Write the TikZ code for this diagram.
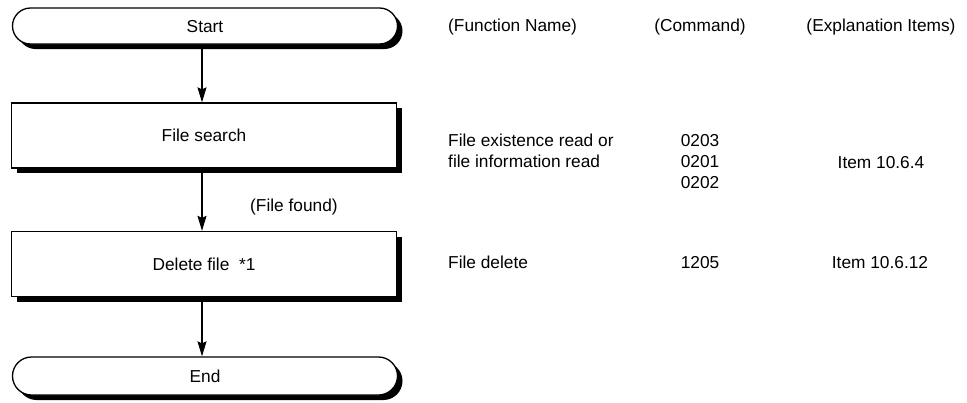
\documentclass[tikz,border=0pt]{standalone}
\usepackage{fontspec}
\setmainfont{Liberation Sans}
\usetikzlibrary{shadows,arrows.meta}
\begin{document}
\begin{tikzpicture}[x=1pt,y=-1pt,
  font=\fontsize{17.3}{20}\selectfont,
  every node/.style={text height=12.4pt,text depth=0pt},
  box/.style={draw=black,line width=1.3pt,fill=white,minimum width=385pt,
    drop shadow={shadow xshift=5pt,shadow yshift=-5pt,opacity=1,fill=black}},
  term/.style={box,rounded corners=18pt,minimum height=36pt},
  proc/.style={box,minimum height=65pt},
  flow/.style={line width=1.2pt,-{Stealth[length=15pt,width=9pt,inset=2pt]}},
  lbl/.style={anchor=west,inner sep=0pt},
  col/.style={inner sep=0pt}]
\useasboundingbox (0,0) rectangle (967,402);
\node[term] (start) at (205,26) {Start};
\node[proc] (search) at (204,135.5) {File search};
\node[proc] (delete) at (204,264) {Delete file\ \ *1};
\node[term,minimum height=38pt,rounded corners=19pt] (end) at (205,376) {End};
\draw[flow] (start.south -| 202,0) -- (search.north -| 202,0);
\draw[flow] (search.south -| 202,0) -- (delete.north -| 202,0);
\node[lbl] (found) at (250,205) {(File found)};
\draw[flow] (delete.south -| 202,0) -- (end.north -| 202,0);
\node[lbl] (h1) at (448,25) {(Function Name)};
\node[col] (h2) at (700,25) {(Command)};
\node[col] (h3) at (881,25) {(Explanation Items)};
\node[lbl] (f1) at (448,140) {File existence read or};
\node[lbl] (f2) at (448,161) {file information read};
\node[col] (c1) at (700,140) {0203};
\node[col] (c2) at (700,161) {0201};
\node[col] (c3) at (700,182) {0202};
\node[col] (e1) at (881,162) {Item 10.6.4};
\node[lbl] (f3) at (448,262) {File delete};
\node[col] (c4) at (700,262) {1205};
\node[col] (e2) at (880,262) {Item 10.6.12};
\end{tikzpicture}
\end{document}
